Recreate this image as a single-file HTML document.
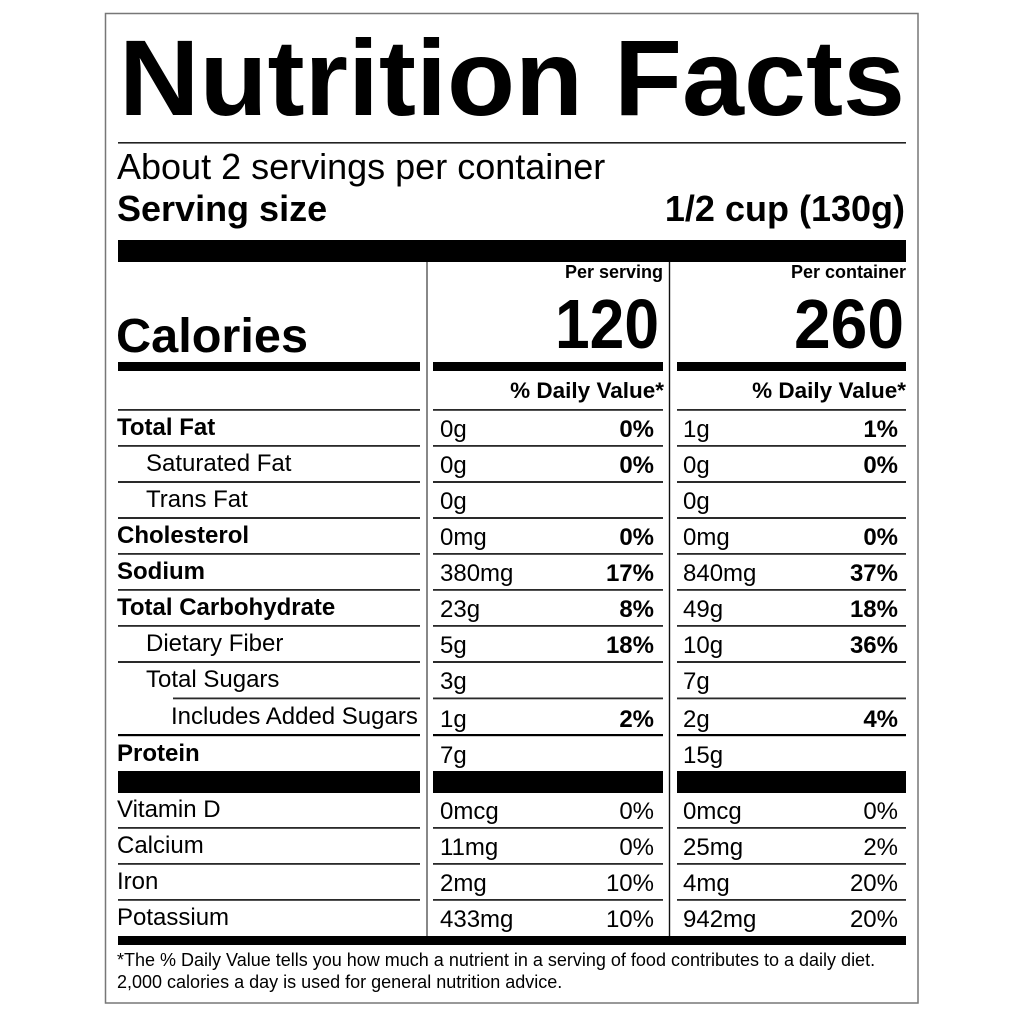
<!DOCTYPE html>
<html><head><meta charset="utf-8"><style>
html,body{margin:0;padding:0;background:#fff;}
svg{display:block;}
text{font-family:"Liberation Sans",Arial,sans-serif;fill:#000;}
.b{font-weight:bold;}
.r{font-size:24px;}
</style></head><body>
<svg width="1025" height="1025" viewBox="0 0 1025 1025" xmlns="http://www.w3.org/2000/svg">
<rect x="0" y="0" width="1025" height="1025" fill="#fff"/>
<rect x="105.5" y="13.5" width="812.5" height="989.5" fill="none" stroke="#777" stroke-width="1.5"/>
<text x="119" y="115" class="b" font-size="108" textLength="786" lengthAdjust="spacingAndGlyphs">Nutrition Facts</text>
<rect x="118" y="142" width="788" height="1.6" fill="#222"/>
<text x="117" y="179" font-size="36">About 2 servings per container</text>
<text x="117" y="221" class="b" font-size="36">Serving size</text>
<text x="905" y="221" class="b" font-size="36" text-anchor="end">1/2 cup (130g)</text>
<rect x="118" y="240" width="788" height="22" fill="#000"/>
<rect x="426" y="262" width="2" height="674" fill="#888"/>
<rect x="668.8" y="262" width="1.4" height="674" fill="#111"/>
<text x="663" y="278" class="b" font-size="18" text-anchor="end">Per serving</text>
<text x="906" y="278" class="b" font-size="18" text-anchor="end">Per container</text>
<text x="659" y="348" class="b" font-size="70" text-anchor="end" textLength="104" lengthAdjust="spacingAndGlyphs">120</text>
<text x="904" y="348" class="b" font-size="70" text-anchor="end" textLength="110" lengthAdjust="spacingAndGlyphs">260</text>
<text x="116" y="352" class="b" font-size="48" textLength="192" lengthAdjust="spacingAndGlyphs">Calories</text>
<rect x="118" y="362" width="302" height="9" fill="#000"/>
<rect x="433" y="362" width="230" height="9" fill="#000"/>
<rect x="677" y="362" width="229" height="9" fill="#000"/>
<text x="664" y="398" class="b" font-size="22.5" text-anchor="end">% Daily Value*</text>
<text x="906" y="398" class="b" font-size="22.5" text-anchor="end">% Daily Value*</text>
<g fill="#2a2a2a">
<rect x="118" y="409" width="302" height="1.8"/><rect x="433" y="409" width="230" height="1.8"/><rect x="677" y="409" width="229" height="1.8"/>
<rect x="118" y="445" width="302" height="1.8"/><rect x="433" y="445" width="230" height="1.8"/><rect x="677" y="445" width="229" height="1.8"/>
<rect x="118" y="481" width="302" height="2"/><rect x="433" y="481" width="230" height="2"/><rect x="677" y="481" width="229" height="2"/>
<rect x="118" y="517" width="302" height="2"/><rect x="433" y="517" width="230" height="2"/><rect x="677" y="517" width="229" height="2"/>
<rect x="118" y="553" width="302" height="1.8"/><rect x="433" y="553" width="230" height="1.8"/><rect x="677" y="553" width="229" height="1.8"/>
<rect x="118" y="589" width="302" height="1.8"/><rect x="433" y="589" width="230" height="1.8"/><rect x="677" y="589" width="229" height="1.8"/>
<rect x="118" y="625" width="302" height="1.8"/><rect x="433" y="625" width="230" height="1.8"/><rect x="677" y="625" width="229" height="1.8"/>
<rect x="118" y="661" width="302" height="2"/><rect x="433" y="661" width="230" height="2"/><rect x="677" y="661" width="229" height="2"/>
<rect x="173" y="697.5" width="247" height="1.8"/><rect x="433" y="697.5" width="230" height="1.8"/><rect x="677" y="697.5" width="229" height="1.8"/>
<rect x="118" y="734" width="302" height="2.2" fill="#000"/><rect x="433" y="734" width="230" height="2.2" fill="#000"/><rect x="677" y="734" width="229" height="2.2" fill="#000"/>
<rect x="118" y="827" width="302" height="1.8"/><rect x="433" y="827" width="230" height="1.8"/><rect x="677" y="827" width="229" height="1.8"/>
<rect x="118" y="863" width="302" height="1.8"/><rect x="433" y="863" width="230" height="1.8"/><rect x="677" y="863" width="229" height="1.8"/>
<rect x="118" y="899" width="302" height="1.8"/><rect x="433" y="899" width="230" height="1.8"/><rect x="677" y="899" width="229" height="1.8"/>
</g>
<rect x="118" y="771" width="302" height="22" fill="#000"/>
<rect x="433" y="771" width="230" height="22" fill="#000"/>
<rect x="677" y="771" width="229" height="22" fill="#000"/>
<rect x="118" y="936" width="788" height="9" fill="#000"/>

<g class="r">
<text x="117" y="435" class="b">Total Fat</text>
<text x="440" y="437">0g</text><text x="654" y="437" class="b" text-anchor="end">0%</text>
<text x="683" y="437">1g</text><text x="898" y="437" class="b" text-anchor="end">1%</text>

<text x="146" y="471">Saturated Fat</text>
<text x="440" y="473">0g</text><text x="654" y="473" class="b" text-anchor="end">0%</text>
<text x="683" y="473">0g</text><text x="898" y="473" class="b" text-anchor="end">0%</text>

<text x="146" y="507">Trans Fat</text>
<text x="440" y="509">0g</text>
<text x="683" y="509">0g</text>

<text x="117" y="543" class="b">Cholesterol</text>
<text x="440" y="545">0mg</text><text x="654" y="545" class="b" text-anchor="end">0%</text>
<text x="683" y="545">0mg</text><text x="898" y="545" class="b" text-anchor="end">0%</text>

<text x="117" y="579" class="b">Sodium</text>
<text x="440" y="581">380mg</text><text x="654" y="581" class="b" text-anchor="end">17%</text>
<text x="683" y="581">840mg</text><text x="898" y="581" class="b" text-anchor="end">37%</text>

<text x="117" y="615" class="b">Total Carbohydrate</text>
<text x="440" y="617">23g</text><text x="654" y="617" class="b" text-anchor="end">8%</text>
<text x="683" y="617">49g</text><text x="898" y="617" class="b" text-anchor="end">18%</text>

<text x="146" y="651">Dietary Fiber</text>
<text x="440" y="653">5g</text><text x="654" y="653" class="b" text-anchor="end">18%</text>
<text x="683" y="653">10g</text><text x="898" y="653" class="b" text-anchor="end">36%</text>

<text x="146" y="687">Total Sugars</text>
<text x="440" y="689">3g</text>
<text x="683" y="689">7g</text>

<text x="171" y="724">Includes Added Sugars</text>
<text x="440" y="727">1g</text><text x="654" y="727" class="b" text-anchor="end">2%</text>
<text x="683" y="727">2g</text><text x="898" y="727" class="b" text-anchor="end">4%</text>

<text x="117" y="761" class="b">Protein</text>
<text x="440" y="763">7g</text>
<text x="683" y="763">15g</text>

<text x="117" y="817">Vitamin D</text>
<text x="440" y="819">0mcg</text><text x="654" y="819" text-anchor="end">0%</text>
<text x="683" y="819">0mcg</text><text x="898" y="819" text-anchor="end">0%</text>

<text x="117" y="853">Calcium</text>
<text x="440" y="855">11mg</text><text x="654" y="855" text-anchor="end">0%</text>
<text x="683" y="855">25mg</text><text x="898" y="855" text-anchor="end">2%</text>

<text x="117" y="889">Iron</text>
<text x="440" y="891">2mg</text><text x="654" y="891" text-anchor="end">10%</text>
<text x="683" y="891">4mg</text><text x="898" y="891" text-anchor="end">20%</text>

<text x="117" y="925">Potassium</text>
<text x="440" y="927">433mg</text><text x="654" y="927" text-anchor="end">10%</text>
<text x="683" y="927">942mg</text><text x="898" y="927" text-anchor="end">20%</text>
</g>

<text x="117" y="966" font-size="18">*The % Daily Value tells you how much a nutrient in a serving of food contributes to a daily diet.</text>
<text x="117" y="988" font-size="18">2,000 calories a day is used for general nutrition advice.</text>
</svg>
</body></html>
